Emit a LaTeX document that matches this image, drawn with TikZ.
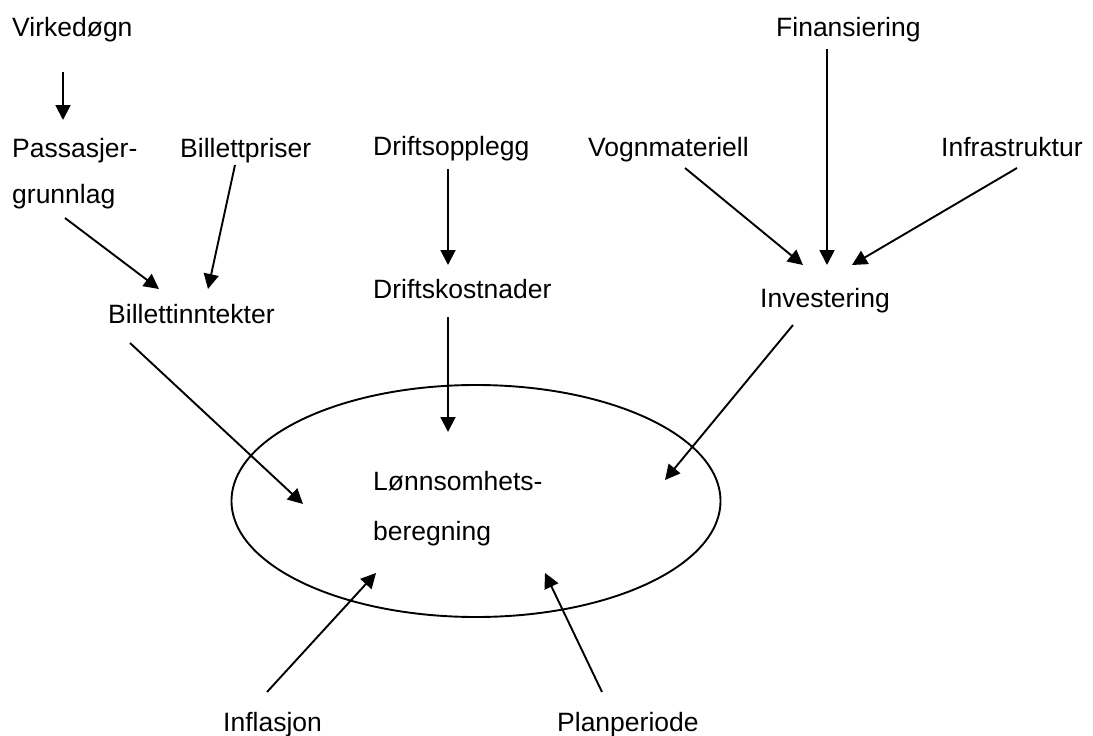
\documentclass[tikz,border=0pt]{standalone}
\usepackage{fontspec}
\setmainfont{Liberation Sans}
\usetikzlibrary{arrows.meta,shapes.geometric}
\begin{document}
\begin{tikzpicture}[x=1pt,y=-1pt,
  lbl/.style={anchor=base west,inner sep=0pt,font=\fontsize{26.5}{30}\selectfont},
  conn/.style={line width=1.9pt,-{Triangle[length=15pt,width=15pt]}},
  oval/.style={draw,line width=1.9pt,ellipse,minimum width=489pt,minimum height=232pt,inner sep=0pt}]
\useasboundingbox (0,0) rectangle (1093,736);
% text nodes
\node[lbl] (virk) at (12,36) {Virkedøgn};
\node[lbl] (pass) at (12,157) {Passasjer-};
\node[lbl] (grunn) at (12,203) {grunnlag};
\node[lbl] (bpris) at (180,157) {Billettpriser};
\node[lbl] (binnt) at (108,323) {Billettinntekter};
\node[lbl] (dopp) at (373,155) {Driftsopplegg};
\node[lbl] (dkost) at (373,298) {Driftskostnader};
\node[lbl] (fin) at (776,36) {Finansiering};
\node[lbl] (vogn) at (588,156) {Vognmateriell};
\node[lbl] (infra) at (941,156) {Infrastruktur};
\node[lbl] (inv) at (760,307) {Investering};
\node[oval] (lonn) at (476,501) {};
\node[lbl] (lonn1) at (373,490) {Lønnsomhets-};
\node[lbl] (lonn2) at (373,540) {beregning};
\node[lbl] (infl) at (223,731) {Inflasjon};
\node[lbl] (plan) at (557,731) {Planperiode};
% connector end points
\coordinate (virkS) at (63,72);   \coordinate (passT) at (63,120);
\coordinate (grunnS) at (65,218); \coordinate (binntT1) at (159,289);
\coordinate (bprisS) at (235,165); \coordinate (binntT2) at (208,289);
\coordinate (binntS) at (130,343); \coordinate (lonnT1) at (303,504);
\coordinate (doppS) at (448,169); \coordinate (dkostT) at (448,265);
\coordinate (dkostS) at (448,317); \coordinate (lonnT2) at (448,432);
\coordinate (finS) at (827,49);   \coordinate (invT1) at (827,265);
\coordinate (vognS) at (685,168); \coordinate (invT2) at (803,265);
\coordinate (infraS) at (1017,168); \coordinate (invT3) at (852,265);
\coordinate (invS) at (793,325);  \coordinate (lonnT3) at (665,480);
\coordinate (inflS) at (267,692); \coordinate (lonnT4) at (376,573);
\coordinate (planS) at (602,692); \coordinate (lonnT5) at (545,573);
% connectors
\draw[conn] (virkS) -- (passT);
\draw[conn] (grunnS) -- (binntT1);
\draw[conn] (bprisS) -- (binntT2);
\draw[conn] (binntS) -- (lonnT1);
\draw[conn] (doppS) -- (dkostT);
\draw[conn] (dkostS) -- (lonnT2);
\draw[conn] (finS) -- (invT1);
\draw[conn] (vognS) -- (invT2);
\draw[conn] (infraS) -- (invT3);
\draw[conn] (invS) -- (lonnT3);
\draw[conn] (inflS) -- (lonnT4);
\draw[conn] (planS) -- (lonnT5);
\end{tikzpicture}
\end{document}
